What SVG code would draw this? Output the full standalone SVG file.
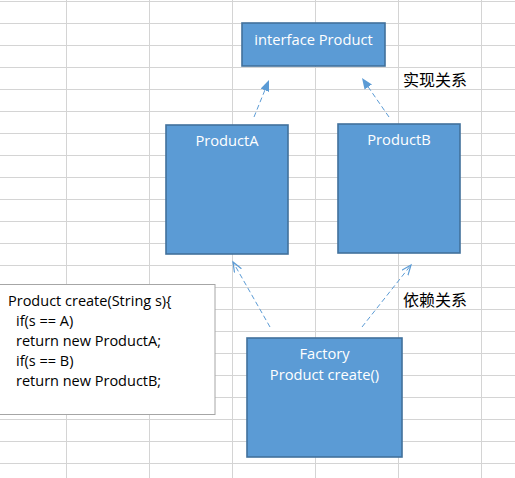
<svg xmlns="http://www.w3.org/2000/svg" width="515" height="478" viewBox="0 0 515 478">
<style>
.grid line{stroke:#d4d4d4;stroke-width:1}
.box{fill:#5b9bd5;stroke:#41719c;stroke-width:1.6}
.wt{fill:#ffffff;font-family:"Open Sans","Liberation Sans",sans-serif;font-size:14.7px;text-anchor:middle}
.code{fill:#000000;font-family:"Open Sans","Liberation Sans",sans-serif;font-size:14.5px}
.lbl{fill:#000000;font-family:"Noto Sans CJK SC",sans-serif;font-size:16px}
.dash{stroke:#5b9bd5;stroke-width:1;stroke-dasharray:5,3;fill:none}
</style>
<defs>
<marker id="tri" markerUnits="userSpaceOnUse" markerWidth="12" markerHeight="10" refX="11" refY="4.5" orient="auto">
<path d="M0,0 L11,4.5 L0,9 z" fill="#5b9bd5"/>
</marker>
<marker id="vee" markerUnits="userSpaceOnUse" markerWidth="12" markerHeight="10" refX="10" refY="4.5" orient="auto">
<path d="M0,0.5 L10,4.5 L0,8.5" fill="none" stroke="#5b9bd5" stroke-width="1.2"/>
</marker>
</defs>
<rect width="515" height="478" fill="#ffffff"/>
<g class="grid">
<line x1="66.5" y1="0" x2="66.5" y2="478"/>
<line x1="149.5" y1="0" x2="149.5" y2="478"/>
<line x1="232.5" y1="0" x2="232.5" y2="478"/>
<line x1="315.5" y1="0" x2="315.5" y2="478"/>
<line x1="398.5" y1="0" x2="398.5" y2="478"/>
<line x1="481.5" y1="0" x2="481.5" y2="478"/>
<line x1="0" y1="1.5" x2="515" y2="1.5"/>
<line x1="0" y1="23.5" x2="515" y2="23.5"/>
<line x1="0" y1="45.5" x2="515" y2="45.5"/>
<line x1="0" y1="67.5" x2="515" y2="67.5"/>
<line x1="0" y1="89.5" x2="515" y2="89.5"/>
<line x1="0" y1="111.5" x2="515" y2="111.5"/>
<line x1="0" y1="133.5" x2="515" y2="133.5"/>
<line x1="0" y1="155.5" x2="515" y2="155.5"/>
<line x1="0" y1="177.5" x2="515" y2="177.5"/>
<line x1="0" y1="199.5" x2="515" y2="199.5"/>
<line x1="0" y1="221.5" x2="515" y2="221.5"/>
<line x1="0" y1="243.5" x2="515" y2="243.5"/>
<line x1="0" y1="265.5" x2="515" y2="265.5"/>
<line x1="0" y1="287.5" x2="515" y2="287.5"/>
<line x1="0" y1="309.5" x2="515" y2="309.5"/>
<line x1="0" y1="331.5" x2="515" y2="331.5"/>
<line x1="0" y1="353.5" x2="515" y2="353.5"/>
<line x1="0" y1="375.5" x2="515" y2="375.5"/>
<line x1="0" y1="397.5" x2="515" y2="397.5"/>
<line x1="0" y1="419.5" x2="515" y2="419.5"/>
<line x1="0" y1="441.5" x2="515" y2="441.5"/>
<line x1="0" y1="463.5" x2="515" y2="463.5"/>
</g>
<g id="interface-product">
<rect class="box" x="242" y="23" width="143" height="43"/>
<text class="wt" x="313.5" y="45">interface Product</text>
</g>
<g id="product-a">
<rect class="box" x="166" y="125" width="122" height="129"/>
<text class="wt" x="227" y="146">ProductA</text>
</g>
<g id="product-b">
<rect class="box" x="338" y="124" width="122" height="129"/>
<text class="wt" x="399" y="145">ProductB</text>
</g>
<g id="factory">
<rect class="box" x="247" y="338" width="155" height="119"/>
<text class="wt" x="324.5" y="359">Factory</text>
<text class="wt" x="324.5" y="380">Product create()</text>
</g>
<g id="code-note">
<rect x="-2" y="284.5" width="217" height="130" fill="#ffffff" stroke="#a6a6a6" stroke-width="1"/>
<text class="code" x="8" y="306">Product create(String s){</text>
<text class="code" x="16" y="326">if(s == A)</text>
<text class="code" x="16" y="346">return new ProductA;</text>
<text class="code" x="16" y="366">if(s == B)</text>
<text class="code" x="16" y="386">return new ProductB;</text>
</g>
<g id="labels">
<text class="lbl" x="403" y="86">实现关系</text>
<text class="lbl" x="403" y="306">依赖关系</text>
</g>
<g id="connectors">
<line class="dash" x1="254" y1="117" x2="269" y2="80" marker-end="url(#tri)"/>
<line class="dash" x1="389" y1="117" x2="362" y2="78" marker-end="url(#tri)"/>
<line class="dash" x1="270" y1="327" x2="233" y2="262" marker-end="url(#vee)"/>
<line class="dash" x1="362" y1="327" x2="411" y2="265" marker-end="url(#vee)"/>
</g>
</svg>
